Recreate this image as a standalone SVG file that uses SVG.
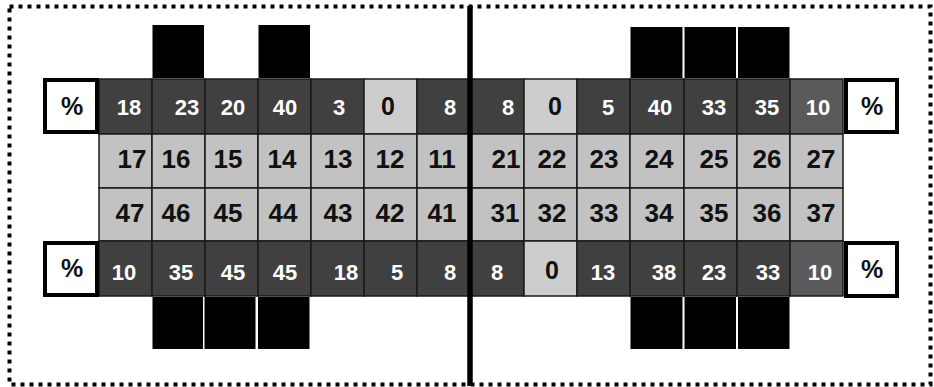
<svg xmlns="http://www.w3.org/2000/svg" width="934" height="387" viewBox="0 0 934 387">
<style>
.dk{fill:#404040;stroke:#1a1a1a;stroke-width:1.5}
.dk2{fill:#5a5a5a;stroke:#1a1a1a;stroke-width:1.5}
.lt{fill:#cdcdcd;stroke:#1a1a1a;stroke-width:1.5}
.mid{fill:#c2c2c2;stroke:#1a1a1a;stroke-width:1.5}
.pb{fill:#fff;stroke:#000;stroke-width:4}
.blk{fill:#000}
text{font-family:"Liberation Sans",Arial,sans-serif;font-weight:bold;text-anchor:middle}
.w{fill:#fff;font-size:22px}
.z{fill:#111;font-size:25px}
.b{fill:#111;font-size:26px}
.p{fill:#111;font-size:25px}
</style>
<rect x="0" y="0" width="934" height="387" fill="#fff"/>
<rect x="9.5" y="6.5" width="921" height="378" fill="none" stroke="#000" stroke-width="4" stroke-dasharray="4 5"/>

<g id="top-blocks">
<rect class="blk" x="152.5" y="25" width="51.5" height="53"/>
<rect class="blk" x="258.5" y="25" width="51.5" height="53"/>
<rect class="blk" x="630.5" y="27" width="52" height="51"/>
<rect class="blk" x="684.5" y="27" width="51.5" height="51"/>
<rect class="blk" x="738" y="27" width="51.5" height="51"/>
</g>
<g id="bottom-blocks">
<rect class="blk" x="152.5" y="297" width="50.5" height="52"/>
<rect class="blk" x="204.5" y="297" width="51" height="52"/>
<rect class="blk" x="258" y="297" width="51.5" height="52"/>
<rect class="blk" x="630.5" y="297" width="52" height="52"/>
<rect class="blk" x="684.5" y="297" width="51.5" height="52"/>
<rect class="blk" x="738" y="297" width="51.5" height="52"/>
</g>

<g id="row-top">
<rect class="dk" x="99" y="79" width="53" height="55"/>
<rect class="dk" x="152" y="79" width="53" height="55"/>
<rect class="dk" x="205" y="79" width="53" height="55"/>
<rect class="dk" x="258" y="79" width="53" height="55"/>
<rect class="dk" x="311" y="79" width="53" height="55"/>
<rect class="lt" x="364" y="79" width="53" height="55"/>
<rect class="dk" x="417" y="79" width="53" height="55"/>
<rect class="dk" x="470" y="79" width="54" height="55"/>
<rect class="lt" x="524" y="79" width="53" height="55"/>
<rect class="dk" x="577" y="79" width="53" height="55"/>
<rect class="dk" x="630" y="79" width="54" height="55"/>
<rect class="dk" x="684" y="79" width="53" height="55"/>
<rect class="dk" x="737" y="79" width="53" height="55"/>
<rect class="dk2" x="790" y="79" width="53" height="55"/>
<text class="w" x="129" y="115">18</text>
<text class="w" x="187" y="115">23</text>
<text class="w" x="233" y="115">20</text>
<text class="w" x="285" y="115">40</text>
<text class="w" x="339" y="115">3</text>
<text class="z" x="388" y="115">0</text>
<text class="w" x="450" y="115">8</text>
<text class="w" x="508" y="115">8</text>
<text class="z" x="555" y="115">0</text>
<text class="w" x="608" y="115">5</text>
<text class="w" x="660" y="115">40</text>
<text class="w" x="714" y="115">33</text>
<text class="w" x="767" y="115">35</text>
<text class="w" x="818" y="115">10</text>
</g>

<g id="row-upper">
<rect class="mid" x="99" y="134" width="53" height="54"/>
<rect class="mid" x="152" y="134" width="53" height="54"/>
<rect class="mid" x="205" y="134" width="53" height="54"/>
<rect class="mid" x="258" y="134" width="53" height="54"/>
<rect class="mid" x="311" y="134" width="53" height="54"/>
<rect class="mid" x="364" y="134" width="53" height="54"/>
<rect class="mid" x="417" y="134" width="53" height="54"/>
<rect class="mid" x="470" y="134" width="54" height="54"/>
<rect class="mid" x="524" y="134" width="53" height="54"/>
<rect class="mid" x="577" y="134" width="53" height="54"/>
<rect class="mid" x="630" y="134" width="54" height="54"/>
<rect class="mid" x="684" y="134" width="53" height="54"/>
<rect class="mid" x="737" y="134" width="53" height="54"/>
<rect class="mid" x="790" y="134" width="53" height="54"/>
<text class="b" x="132" y="168">17</text>
<text class="b" x="176" y="168">16</text>
<text class="b" x="228" y="168">15</text>
<text class="b" x="282" y="168">14</text>
<text class="b" x="338" y="168">13</text>
<text class="b" x="390" y="168">12</text>
<text class="b" x="442" y="168">11</text>
<text class="b" x="506" y="168">21</text>
<text class="b" x="552" y="168">22</text>
<text class="b" x="604" y="168">23</text>
<text class="b" x="659" y="168">24</text>
<text class="b" x="714" y="168">25</text>
<text class="b" x="767" y="168">26</text>
<text class="b" x="821" y="168">27</text>
</g>

<g id="row-lower">
<rect class="mid" x="99" y="188" width="53" height="53"/>
<rect class="mid" x="152" y="188" width="53" height="53"/>
<rect class="mid" x="205" y="188" width="53" height="53"/>
<rect class="mid" x="258" y="188" width="53" height="53"/>
<rect class="mid" x="311" y="188" width="53" height="53"/>
<rect class="mid" x="364" y="188" width="53" height="53"/>
<rect class="mid" x="417" y="188" width="53" height="53"/>
<rect class="mid" x="470" y="188" width="54" height="53"/>
<rect class="mid" x="524" y="188" width="53" height="53"/>
<rect class="mid" x="577" y="188" width="53" height="53"/>
<rect class="mid" x="630" y="188" width="54" height="53"/>
<rect class="mid" x="684" y="188" width="53" height="53"/>
<rect class="mid" x="737" y="188" width="53" height="53"/>
<rect class="mid" x="790" y="188" width="53" height="53"/>
<text class="b" x="130" y="222">47</text>
<text class="b" x="176" y="222">46</text>
<text class="b" x="228" y="222">45</text>
<text class="b" x="283" y="222">44</text>
<text class="b" x="338" y="222">43</text>
<text class="b" x="390" y="222">42</text>
<text class="b" x="442" y="222">41</text>
<text class="b" x="505" y="222">31</text>
<text class="b" x="552" y="222">32</text>
<text class="b" x="604" y="222">33</text>
<text class="b" x="659" y="222">34</text>
<text class="b" x="714" y="222">35</text>
<text class="b" x="767" y="222">36</text>
<text class="b" x="821" y="222">37</text>
</g>

<g id="row-bottom">
<rect class="dk" x="99" y="241" width="53" height="55"/>
<rect class="dk" x="152" y="241" width="53" height="55"/>
<rect class="dk" x="205" y="241" width="53" height="55"/>
<rect class="dk" x="258" y="241" width="53" height="55"/>
<rect class="dk" x="311" y="241" width="53" height="55"/>
<rect class="dk" x="364" y="241" width="53" height="55"/>
<rect class="dk" x="417" y="241" width="53" height="55"/>
<rect class="dk" x="470" y="241" width="54" height="55"/>
<rect class="lt" x="524" y="241" width="53" height="55"/>
<rect class="dk" x="577" y="241" width="53" height="55"/>
<rect class="dk" x="630" y="241" width="54" height="55"/>
<rect class="dk" x="684" y="241" width="53" height="55"/>
<rect class="dk" x="737" y="241" width="53" height="55"/>
<rect class="dk2" x="790" y="241" width="53" height="55"/>
<text class="w" x="124" y="280">10</text>
<text class="w" x="181" y="280">35</text>
<text class="w" x="233" y="280">45</text>
<text class="w" x="285" y="280">45</text>
<text class="w" x="346" y="280">18</text>
<text class="w" x="397" y="280">5</text>
<text class="w" x="450" y="280">8</text>
<text class="w" x="497" y="280">8</text>
<text class="z" x="552" y="279">0</text>
<text class="w" x="603" y="280">13</text>
<text class="w" x="664" y="280">38</text>
<text class="w" x="714" y="280">23</text>
<text class="w" x="768" y="280">33</text>
<text class="w" x="820" y="280">10</text>
</g>

<g id="pct-top-left"><rect class="pb" x="45" y="80" width="52" height="52"/><text class="p" x="72" y="115">%</text></g>
<g id="pct-top-right"><rect class="pb" x="846" y="80" width="51" height="52"/><text class="p" x="872" y="115">%</text></g>
<g id="pct-bottom-left"><rect class="pb" x="45" y="243" width="52" height="52"/><text class="p" x="72" y="277">%</text></g>
<g id="pct-bottom-right"><rect class="pb" x="846" y="243" width="51" height="53"/><text class="p" x="872" y="278">%</text></g>

<g id="connectors">
<line x1="470" y1="6" x2="470" y2="386" stroke="#000" stroke-width="5.5"/>
</g>
</svg>
